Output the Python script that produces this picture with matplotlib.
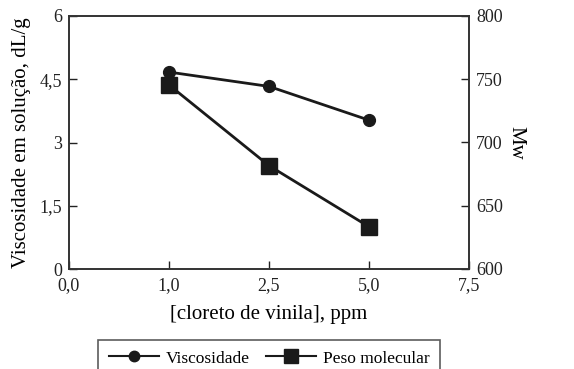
import matplotlib
matplotlib.use("Agg")
import matplotlib.pyplot as plt
from matplotlib.lines import Line2D

categories = ["0,0", "1,0", "2,5", "5,0", "7,5"]
data_cats = ["1,0", "2,5", "5,0"]
viscosidade = [4.67, 4.33, 3.53]
peso_molecular = [745.5, 681.7, 633.4]
left_ticks = [0, 1.5, 3, 4.5, 6]
left_labels = ["0", "1,5", "3", "4,5", "6"]
right_ticks = [600, 650, 700, 750, 800]

plt.rcParams['font.family'] = ['Liberation Serif', 'DejaVu Serif']

fig = plt.figure(figsize=(5.74, 3.69), dpi=100)
ax = fig.add_axes([69/574, 1-269/369, 400/574, 253/369])
ax2 = ax.twinx()

xpos = {c: i for i, c in enumerate(categories)}
xs = [xpos[c] for c in data_cats]

ax.plot(xs, viscosidade, color='#1a1a1a', lw=2, marker='o', ms=8.5, zorder=3)
ax2.plot(xs, peso_molecular, color='#1a1a1a', lw=2, marker='s', ms=11.5, zorder=3)

ax.set_xlim(0, len(categories)-1)
ax.set_xticks(range(len(categories)))
ax.set_xticklabels(categories)
ax.set_ylim(0, 6)
ax.set_yticks(left_ticks)
ax.set_yticklabels(left_labels)
ax2.set_ylim(600, 800)
ax2.set_yticks(right_ticks)

for a in (ax, ax2):
    a.tick_params(direction='in', length=6, width=1, labelsize=13, colors='#222222')
    for s in a.spines.values():
        s.set_linewidth(1.2)
        s.set_color('#333333')
ax.tick_params(axis='x', pad=6)
ax.tick_params(axis='y', pad=5)
ax2.tick_params(axis='y', pad=5)

ax.set_xlabel("[cloreto de vinila], ppm", fontsize=15, labelpad=8)
ax.set_ylabel("Viscosidade em solução, dL/g", fontsize=15, labelpad=6)
ax2.set_ylabel("Mw", fontsize=15, rotation=270, labelpad=16)

handles = [Line2D([], [], color='#1a1a1a', lw=1.5, marker='o', ms=7.5),
           Line2D([], [], color='#1a1a1a', lw=1.5, marker='s', ms=9.5)]
leg = fig.legend(handles, ["Viscosidade", "Peso molecular"], loc='upper center',
                 bbox_to_anchor=(269/574, 1-340/369), ncol=2, fontsize=12.5,
                 frameon=True, fancybox=False, edgecolor='#333333',
                 handlelength=2.9, handletextpad=0.4, columnspacing=0.9,
                 borderpad=0.6, borderaxespad=0)
leg.get_frame().set_linewidth(1.2)

fig.savefig("out.png", dpi=100)
